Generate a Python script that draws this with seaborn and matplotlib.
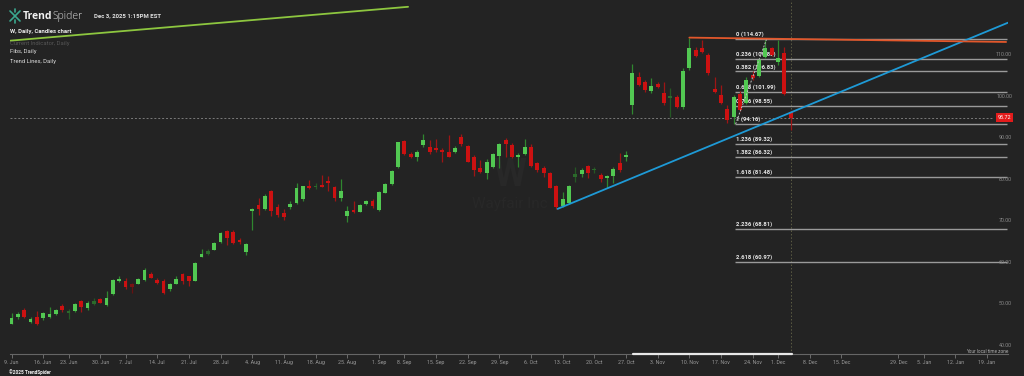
import numpy as np
import pandas as pd
import seaborn as sns
import matplotlib.pyplot as plt
from matplotlib.lines import Line2D

# ---- daily candles for W (Jun 9 .. Dec 3 2025) ----
opens = [46.0, 47.6, 49.3, 46.4, 47.6, 47.4, 47.6, 48.4, 50.3, 48.6,
         49.1, 51.4, 49.9, 50.8, 52.0, 50.6, 53.1, 56.2, 56.2, 55.5,
         55.7, 56.6, 58.1, 56.6, 56.4, 54.3, 55.7, 58.0, 57.4, 56.4,
         62.2, 62.9, 63.9, 65.7, 68.4, 68.2, 66.2, 63.4, 73.2, 74.6,
         73.7, 78.0, 74.2, 72.6, 74.2, 75.2, 76.1, 79.1, 78.9, 79.5,
         80.5, 78.9, 76.4, 72.0, 73.4, 73.0, 75.0, 75.7, 73.4, 77.6,
         79.6, 83.7, 90.1, 86.9, 86.1, 89.0, 88.7, 88.4, 87.9, 87.5,
         87.3, 91.0, 88.9, 86.1, 83.5, 82.3, 83.7, 86.5, 90.3, 89.0,
         86.3, 86.9, 88.7, 84.7, 83.5, 82.4, 79.3, 74.4, 75.2, 81.5,
         82.1, 84.0, 83.0, 81.9, 81.1, 81.6, 84.8, 86.1, 98.8, 105.6,
         104.4, 102.1, 103.7, 101.6, 100.4, 100.8, 98.2, 107.6, 112.0, 112.4,
         110.8, 102.7, 101.1, 97.8, 95.8, 101.3, 99.2, 106.0, 105.7, 110.4,
         112.5, 109.2, 111.2, 97.0]
highs = [48.5, 48.8, 49.7, 47.6, 49.1, 48.8, 50.1, 49.6, 50.7, 49.6,
         51.0, 51.7, 51.5, 52.1, 52.3, 53.9, 56.7, 57.6, 57.0, 55.8,
         57.1, 59.4, 58.6, 57.0, 56.7, 55.9, 57.4, 58.2, 57.5, 60.8,
         64.0, 64.0, 65.6, 68.2, 68.6, 68.6, 66.8, 65.4, 73.9, 76.3,
         77.2, 78.3, 74.9, 73.7, 75.5, 79.9, 79.2, 80.7, 80.0, 81.9,
         81.6, 79.1, 80.8, 74.4, 75.7, 75.0, 75.9, 76.0, 78.0, 79.9,
         83.1, 89.9, 90.3, 87.5, 87.8, 91.8, 90.2, 90.5, 88.3, 91.5,
         88.9, 91.8, 89.1, 86.7, 85.5, 85.7, 87.1, 89.7, 90.7, 89.5,
         87.1, 90.5, 89.3, 85.1, 84.0, 82.7, 79.5, 77.7, 79.5, 83.9,
         83.5, 84.3, 83.9, 82.3, 81.9, 83.9, 87.1, 87.7, 108.6, 106.8,
         104.8, 105.2, 104.4, 104.4, 102.8, 101.2, 107.6, 115.0, 112.8, 114.4,
         111.2, 105.6, 103.6, 98.7, 101.1, 102.2, 105.6, 107.0, 110.0, 114.4,
         112.8, 114.4, 112.8, 97.4]
lows = [45.9, 47.2, 47.5, 46.2, 45.7, 46.8, 47.5, 48.1, 48.9, 47.2,
        48.9, 48.8, 49.2, 50.5, 50.9, 50.4, 52.9, 56.0, 54.4, 53.3,
        55.5, 56.3, 57.0, 55.7, 53.1, 54.0, 55.5, 55.7, 55.1, 56.3,
        62.0, 62.7, 63.7, 65.4, 65.0, 65.2, 65.2, 62.6, 68.6, 72.2,
        73.4, 72.0, 71.7, 71.0, 73.6, 75.0, 75.5, 78.4, 78.6, 78.9,
        78.0, 75.6, 75.5, 70.6, 72.6, 72.9, 74.6, 73.8, 73.3, 77.5,
        79.5, 83.5, 86.8, 85.9, 85.3, 88.7, 86.9, 87.3, 84.9, 86.2,
        87.1, 88.9, 84.9, 81.6, 82.4, 80.8, 83.5, 83.5, 86.3, 85.9,
        83.9, 86.7, 83.9, 82.7, 81.5, 78.7, 73.7, 74.1, 74.9, 80.3,
        81.5, 81.1, 82.3, 80.3, 78.7, 79.9, 82.7, 85.3, 96.7, 103.3,
        102.0, 101.7, 102.8, 98.8, 95.9, 98.1, 97.9, 107.3, 110.4, 111.4,
        106.0, 101.6, 99.0, 94.4, 94.16, 97.2, 99.0, 104.8, 105.4, 110.2,
        110.5, 108.4, 101.2, 92.7]
closes = [47.3, 48.3, 47.6, 47.2, 45.9, 48.5, 48.4, 49.2, 49.3, 49.1,
          50.8, 50.0, 50.9, 51.6, 51.0, 52.1, 56.6, 56.9, 54.8, 54.9,
          56.7, 58.9, 57.1, 55.9, 53.3, 55.5, 56.7, 56.3, 56.3, 60.6,
          62.9, 63.6, 65.4, 67.9, 66.6, 65.5, 65.6, 65.2, 73.7, 73.7,
          76.7, 73.2, 72.2, 71.7, 74.8, 78.7, 79.1, 78.7, 79.3, 79.0,
          79.9, 76.3, 78.0, 73.2, 73.0, 74.6, 75.7, 74.4, 77.8, 79.6,
          82.9, 89.8, 86.9, 86.3, 87.3, 90.3, 87.5, 87.8, 87.3, 86.3,
          88.5, 89.4, 85.1, 83.1, 82.7, 85.1, 86.9, 89.3, 89.4, 86.3,
          86.8, 88.6, 84.0, 83.1, 82.4, 78.8, 74.2, 76.2, 79.2, 82.0,
          83.1, 82.3, 83.2, 80.9, 81.6, 83.2, 83.1, 86.6, 106.5, 103.6,
          102.4, 103.3, 103.0, 99.3, 100.9, 98.3, 107.0, 112.4, 110.6, 111.6,
          106.4, 101.9, 99.3, 95.2, 100.6, 97.6, 104.9, 105.2, 109.6, 112.4,
          110.8, 110.0, 101.4, 95.72]
dim_candles = [9, 13, 19, 31, 48, 89, 92, 104]   # the faded candles
last_price = 95.72

holidays = ['2025-06-19', '2025-07-04', '2025-09-01', '2025-11-27',
            '2025-12-25', '2026-01-01', '2026-01-19']
tick_dates = ['2025-06-09', '2025-06-16', '2025-06-23', '2025-06-30', '2025-07-07',
              '2025-07-14', '2025-07-21', '2025-07-28', '2025-08-04', '2025-08-11',
              '2025-08-18', '2025-08-25', '2025-09-01', '2025-09-08', '2025-09-15',
              '2025-09-22', '2025-09-29', '2025-10-06', '2025-10-13', '2025-10-20',
              '2025-10-27', '2025-11-03', '2025-11-10', '2025-11-17', '2025-11-24',
              '2025-12-01', '2025-12-08', '2025-12-15', '2025-12-29', '2026-01-05',
              '2026-01-12', '2026-01-19']
price_ticks = [110, 100, 90, 80, 70, 60, 50, 40]

# fib retracement / extension levels as labelled on the chart
fib_ratios = ['0', '0.236', '0.382', '0.618', '0.786', '1',
              '1.236', '1.382', '1.618', '2.236', '2.618']
fib_values = [114.67, 109.83, 106.83, 101.99, 98.55, 94.16,
              89.32, 86.32, 81.48, 68.81, 60.97]
fib_span = (114.2, 157.1)          # candle index where the fib box starts / ends
fib_swing_x = [114.3, 119.2]
fib_swing_y = [94.16, 114.67]

# trend lines (candle index, price)
green_x, green_y = [-0.2, 62.6], [114.26, 122.43]
blue_x, blue_y = [86.2, 157.3], [73.7, 118.6]
orange_x, orange_y = [107.0, 157.0], [115.0, 113.95]
highlight_range = (98.1, 123.2)

BG = '#232323'
W, H = 1024, 376

sns.set_theme(style='dark', rc={'axes.facecolor': BG, 'figure.facecolor': BG})
plt.rcParams['font.family'] = ['Roboto', 'DejaVu Sans']

fig = plt.figure(figsize=(W / 100, H / 100), dpi=100)
ax = fig.add_axes([10 / W, 22 / H, 998 / W, 354 / H])
ax.set_facecolor(BG)

# trading-day calendar -> x positions
days = pd.bdate_range('2025-06-09', '2026-01-30')
days = days[~days.isin(pd.to_datetime(holidays))]
tick_ts = pd.to_datetime(tick_dates)
tick_pos = days.searchsorted(tick_ts)
tick_lab = [f"{t.day}. {t.strftime('%b')}" for t in tick_ts]

o, h, l, c = (np.array(a) for a in (opens, highs, lows, closes))
idx = np.arange(len(c))
up = c >= o
dim = np.isin(idx, dim_candles)
body_col = np.where(up, np.where(dim, '#2b6a2b', '#52c852'),
                    np.where(dim, '#7a1414', '#cc1111'))
wick_col = np.where(up, np.where(dim, '#245824', '#2f872f'),
                    np.where(dim, '#661212', '#9e1515'))

# watermark
ax.text(0.501, 0.503, 'W', transform=ax.transAxes, ha='center', va='center',
        fontsize=27, weight='bold', color='#282828', zorder=0.5)
ax.text(0.501, 0.424, 'Wayfair Inc', transform=ax.transAxes, ha='center', va='center',
        fontsize=11, color='#282828', zorder=0.5)

# fib levels
ax.hlines(fib_values, fib_span[0], fib_span[1], colors='#9a9a9a', lw=1.0, zorder=3)
for r, v in zip(fib_ratios, fib_values):
    ax.text(fib_span[0] + 0.1, v + 0.45, f"{r} ({v:.2f})", fontsize=4.2, weight='bold',
            color='#e6e6e6', va='bottom', ha='left', zorder=3.5)
ax.plot(fib_swing_x, fib_swing_y, color='#bdbdbd', lw=0.7, ls=(0, (2, 1.5)), zorder=6)

# current price + current bar markers
ax.axhline(last_price, xmax=0.985, color='#7a7a7a', lw=0.7, ls=(0, (2, 2)), zorder=2)
ax.axvline(idx[-1], color='#5c5c44', lw=0.7, ls=(0, (1.5, 2)), zorder=2)

# candles
ax.vlines(idx, l, h, colors=wick_col, lw=0.9, zorder=4)
ax.bar(idx, np.maximum(np.abs(c - o), 0.15), bottom=np.minimum(o, c), width=0.6,
       color=body_col, linewidth=0, zorder=5)

# trend lines
sns.lineplot(x=green_x, y=green_y, color='#8dc63f', lw=1.3, ax=ax, zorder=6)
sns.lineplot(x=blue_x, y=blue_y, color='#1e9ad6', lw=1.3, ax=ax, zorder=6)
sns.lineplot(x=orange_x, y=orange_y, color='#e2572b', lw=1.3, ax=ax, zorder=6)

ax.set_xlim(-0.237, 157.3)
ax.set_ylim(38.71, 124.07)

# x axis
ax.set_xticks(tick_pos)
ax.set_xticklabels(tick_lab)
ax.set_yticks([])
ax.tick_params(axis='x', length=3, width=0.6, color='#777777', pad=1.0,
               labelsize=3.8, labelcolor='#9a9a9a', bottom=True)
for s in ['top', 'left', 'right']:
    ax.spines[s].set_visible(False)
ax.spines['bottom'].set_color('#666666')
ax.spines['bottom'].set_linewidth(0.8)
ax.plot(highlight_range, [38.71, 38.71], color='#e8e8e8', lw=1.6, clip_on=False, zorder=7)
ax.grid(False)
ax.set_xlabel('')
ax.set_ylabel('')

# price scale
ytr = ax.get_yaxis_transform()
for v in price_ticks:
    ax.text(1.004, v + 0.85, f"{v:.2f}", transform=ytr, ha='right', va='center',
            fontsize=3.9, color='#8a8a8a', clip_on=False)
ax.text(0.9965, last_price, f"{last_price:.2f}", transform=ytr, ha='center', va='center',
        fontsize=3.9, color='white', clip_on=False, zorder=8,
        bbox=dict(boxstyle='square,pad=0.3', fc='#e31b1b', ec='none'))


def fx(px):
    return px / W


def fy(py):
    return 1 - py / H


# header
for (x1, y1, x2, y2) in [(10, 11, 20, 21), (10, 21, 20, 11), (15, 9, 15, 12), (15, 20, 15, 23)]:
    fig.add_artist(Line2D([fx(x1), fx(x2)], [fy(y1), fy(y2)], color='#3aa88f', lw=1.2,
                          transform=fig.transFigure))
t1 = fig.text(fx(23), fy(16.5), 'Trend', fontsize=7.5, weight='bold', color='#f0f0f0',
              family=['Open Sans', 'DejaVu Sans'], va='center', ha='left')
bb = t1.get_window_extent(renderer=fig.canvas.get_renderer())
fig.text(bb.x1 / W, fy(16.5), 'Spider', fontsize=7.5, weight='light', color='#d8d8d8',
         family=['Open Sans', 'DejaVu Sans'], va='center', ha='left')
fig.text(fx(94), fy(16), 'Dec 3, 2025 1:15PM EST', fontsize=4.3, weight='bold',
         color='#e0e0e0', va='center', ha='left')
fig.text(fx(10), fy(31), 'W, Daily, Candles chart', fontsize=4.2, weight='bold',
         color='#eeeeee', va='center', ha='left')
fig.text(fx(10), fy(43), 'Current Indicator, Daily', fontsize=4.2, color='#555555',
         va='center', ha='left')
fig.text(fx(10), fy(52), 'Fibs, Daily', fontsize=4.2, color='#dddddd', va='center', ha='left')
fig.text(fx(10), fy(61), 'Trend Lines, Daily', fontsize=4.2, color='#dddddd',
         va='center', ha='left')
fig.text(fx(1008), fy(351.5), 'Your local time zone', fontsize=3.3, color='#b0b0b0',
         va='center', ha='right')
fig.text(fx(9), fy(372), '©2025 TrendSpider', fontsize=3.4, weight='bold', color='#f0f0f0',
         va='center', ha='left')

fig.savefig('out.png', dpi=100, facecolor=BG)
